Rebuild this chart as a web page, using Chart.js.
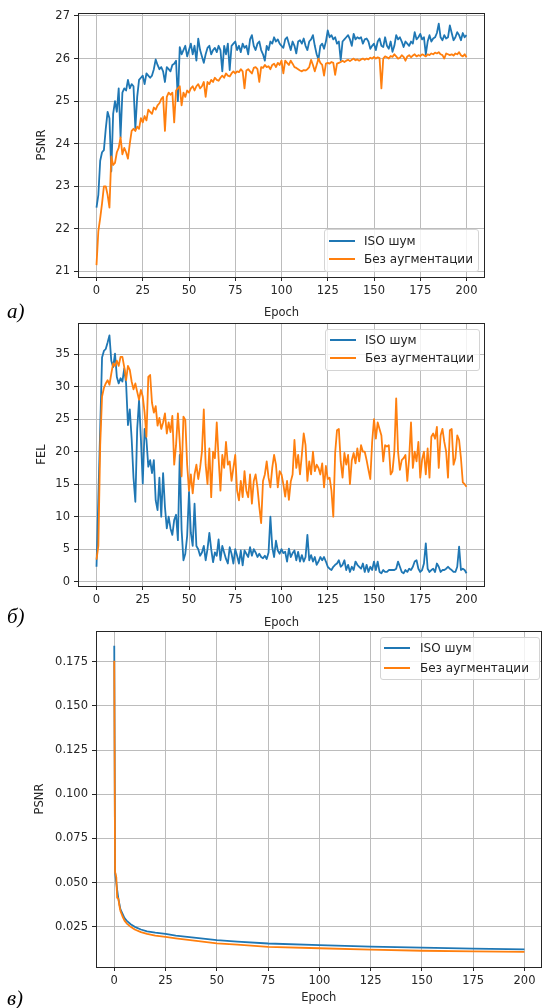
<!DOCTYPE html>
<html>
<head>
<meta charset="utf-8">
<script src="https://cdn.jsdelivr.net/npm/chart.js@4.4.0/dist/chart.umd.min.js"></script>
<style>
  body { margin: 0; width: 542px; height: 1008px; background: #fff; position: relative; overflow: hidden; font-family: "DejaVu Sans", sans-serif; }
  .panel { position: absolute; left: 0; width: 542px; }
  .legend { position: absolute; background: rgba(255,255,255,0.8); border: 1px solid #d4d4d4; border-radius: 3px; box-sizing: border-box; font-size: 12px; color: #222; }
  .legend .ln { position: absolute; height: 2px; width: 26px; }
  .legend .tx { position: absolute; line-height: 14px; white-space: nowrap; }
  .tag { position: absolute; left: 7px; font-family: "Liberation Serif", serif; font-style: italic; font-size: 21px; line-height: 22px; color: #000; }
</style>
</head>
<body>

<div class="panel" style="top:0;height:322px"><canvas id="chartA"></canvas></div>
<div class="panel" style="top:310px;height:322px"><canvas id="chartB"></canvas></div>
<div class="panel" style="top:620px;height:388px"><canvas id="chartC"></canvas></div>

<div class="legend" style="left:324px;top:229px;width:155px;height:43px">
  <span class="ln" style="left:4px;top:10px;background:#1f77b4"></span><span class="tx" style="left:39px;top:4px">ISO шум</span>
  <span class="ln" style="left:4px;top:28px;background:#ff7f0e"></span><span class="tx" style="left:39px;top:22px">Без аугментации</span>
</div>
<div class="legend" style="left:325px;top:329px;width:155px;height:42px">
  <span class="ln" style="left:4px;top:9px;background:#1f77b4"></span><span class="tx" style="left:39px;top:3px">ISO шум</span>
  <span class="ln" style="left:4px;top:27px;background:#ff7f0e"></span><span class="tx" style="left:39px;top:21px">Без аугментации</span>
</div>
<div class="legend" style="left:380px;top:637px;width:160px;height:43px">
  <span class="ln" style="left:3px;top:9px;background:#1f77b4"></span><span class="tx" style="left:39px;top:3px">ISO шум</span>
  <span class="ln" style="left:3px;top:29px;background:#ff7f0e"></span><span class="tx" style="left:39px;top:23px">Без аугментации</span>
</div>

<div class="tag" style="top:300px">a)</div>
<div class="tag" style="top:605px">б)</div>
<div class="tag" style="top:987px">в)</div>

<script>
// labels
const seriesLabels = ['ISO шум', 'Без аугментации'];
const xTicks = [0, 25, 50, 75, 100, 125, 150, 175, 200];

// a) PSNR per epoch (0..200)
const aIso = [
  22.5, 22.8, 23.6, 23.8, 23.85, 24.35, 24.75, 24.6, 23.35, 24.7,
  25.0, 24.75, 25.3, 24.15, 25.2, 25.3, 25.25, 25.5, 25.3, 25.4,
  25.35, 24.35, 25.1, 25.5, 25.55, 25.6, 25.4, 25.65, 25.6, 25.55,
  25.6, 25.75, 25.98, 25.85, 25.75, 25.8, 25.7, 25.45, 25.8, 25.75,
  25.7, 25.85, 25.88, 25.95, 25.0, 26.27, 26.1, 26.2, 26.3, 26.05,
  26.2, 26.35, 26.1, 26.3, 25.95, 26.47, 26.2, 26.05, 25.9, 26.1,
  26.25, 26.3, 26.1, 26.2, 26.25, 26.15, 26.3, 26.2, 25.7, 26.3,
  26.1, 26.35, 25.73, 26.3, 26.35, 26.4, 26.2, 26.3, 26.15, 26.35,
  26.25, 26.3, 26.1, 26.45, 26.55, 26.3, 26.2, 26.35, 26.4, 26.2,
  26.1, 25.95, 26.3, 26.2, 26.4, 26.35, 26.5, 26.4, 26.45, 26.35,
  26.3, 26.25, 26.45, 26.5, 26.35, 26.2, 26.4, 26.3, 26.12, 26.4,
  26.43, 26.35, 26.47, 26.3, 26.2, 26.4, 26.45, 26.55, 26.3, 26.1,
  25.98, 26.3, 26.35, 26.23, 26.4, 26.66, 26.5, 26.55, 26.45, 26.5,
  26.35, 26.4, 25.96, 26.4, 26.45, 26.5, 26.55, 26.45, 26.3, 26.58,
  26.45, 26.5, 26.47, 26.5, 26.35, 26.45, 26.47, 26.4, 26.23, 26.3,
  26.35, 26.2, 26.4, 26.47, 26.3, 26.27, 26.5, 26.3, 26.23, 26.4,
  26.16, 26.3, 26.55, 26.45, 26.5, 26.4, 26.27, 26.4, 26.35, 26.3,
  26.4, 26.35, 26.62, 26.45, 26.5, 26.58, 26.45, 26.5, 26.1, 26.4,
  26.55, 26.4, 26.47, 26.5, 26.6, 26.82, 26.5, 26.43, 26.55, 26.47,
  26.5, 26.78, 26.6, 26.43, 26.5, 26.62, 26.55, 26.43, 26.6, 26.5,
  26.55
];
const aNoAug = [
  21.15, 21.95, 22.25, 22.6, 23.0, 23.0, 22.8, 22.5, 23.7, 23.5,
  23.55, 23.8, 23.9, 24.15, 23.75, 23.9, 23.8, 23.65, 24.0, 24.3,
  24.35, 24.3, 24.4, 24.35, 24.6, 24.5, 24.65, 24.55, 24.8, 24.75,
  24.7, 24.85, 24.8, 24.9, 24.95, 25.05, 25.1, 24.3, 25.1, 25.2,
  25.15, 25.2, 24.5, 25.25, 25.3, 25.35, 24.9, 25.2, 25.1, 25.25,
  25.2, 25.3, 25.35, 25.25, 25.35, 25.4, 25.3, 25.35, 25.45, 25.1,
  25.45, 25.4, 25.5, 25.45, 25.55, 25.5, 25.48, 25.55, 25.6, 25.55,
  25.65, 25.6, 25.58, 25.65, 25.7, 25.65, 25.7, 25.68, 25.75, 25.7,
  25.3, 25.72, 25.75, 25.7, 25.65, 25.78, 25.8, 25.75, 25.45, 25.8,
  25.78, 25.85, 25.8, 25.82, 25.75, 25.85, 25.88, 25.8, 25.9, 25.85,
  25.95, 25.65, 25.95, 25.9, 25.85, 25.95, 25.88, 25.8, 25.78, 25.75,
  25.72, 25.7, 25.73, 25.72, 25.75, 25.8, 25.97, 25.85, 25.7, 25.85,
  26.0, 25.9, 25.85, 25.6, 25.88, 25.9, 25.88, 25.92, 25.9, 25.62,
  25.88, 25.9, 25.92, 25.95, 25.92, 25.95, 25.97, 25.94, 25.97, 26.0,
  25.96, 25.98, 25.95, 25.98, 26.0, 25.97, 26.0, 25.98, 26.02, 26.0,
  26.04, 26.0, 26.03, 26.01, 25.3, 26.0, 26.05, 26.03, 26.0, 26.06,
  26.04, 26.1, 26.05, 26.0, 26.02, 26.08, 26.04, 25.95, 26.05, 26.08,
  26.03, 26.07, 26.1, 26.05, 26.08, 26.06, 26.1, 26.08, 26.05, 26.1,
  26.08, 26.12, 26.1, 26.14, 26.12, 26.15, 26.1, 26.08, 26.0, 26.12,
  26.1, 26.08, 26.1, 26.07, 26.12, 26.1, 26.15, 26.08, 26.05, 26.1,
  26.03
];

// б) FEL per epoch (0..200)
const bIso = [
  2.3, 13.0, 23.5, 34.5, 35.5, 35.8, 36.8, 37.9, 34.0, 33.0,
  35.1, 31.5, 30.5, 31.3, 30.8, 32.8, 30.5, 24.1, 26.5, 22.0,
  16.0, 12.3, 23.5, 27.9, 22.0, 15.1, 23.5, 21.8, 17.7, 18.7,
  16.7, 18.7, 12.5, 11.0, 16.0, 10.0, 16.7, 11.5, 8.2, 10.0,
  8.2, 7.2, 9.5, 10.3, 6.4, 19.5, 8.0, 3.3, 4.3, 7.0,
  13.8, 7.5, 5.5, 12.0, 5.5, 5.0, 4.0, 4.5, 5.5, 3.3,
  5.0, 7.5, 5.0, 3.0, 4.5, 4.0, 6.5, 3.3, 5.5, 4.5,
  3.5, 2.8, 5.3, 4.3, 2.8, 5.0, 4.0, 2.8, 4.8, 2.5,
  4.8, 4.3, 3.8, 5.3, 4.0, 5.0, 4.5, 3.8, 4.3, 3.8,
  3.6, 4.0, 3.5, 4.5, 10.0, 5.3, 3.8, 6.3, 4.8, 4.3,
  5.0, 4.4, 4.6, 3.1, 5.1, 3.8, 4.4, 4.8, 3.3, 4.6,
  3.1, 4.1, 3.1, 3.8, 7.2, 3.3, 4.1, 3.1, 3.8, 2.6,
  3.1, 3.8, 3.3, 3.8, 3.1, 2.3, 2.0, 1.8, 2.3, 2.6,
  2.8, 3.3, 2.3, 2.6, 3.3, 1.8, 2.6, 1.5, 2.3, 1.8,
  3.1, 2.6, 2.3, 2.0, 2.8, 1.5, 2.6, 1.5, 2.3, 1.8,
  3.1, 1.8, 3.1, 1.5, 1.3, 1.8, 1.5, 1.5, 1.8, 1.8,
  1.8, 1.8, 2.0, 3.1, 2.3, 1.5, 1.3, 1.8, 1.5, 2.0,
  1.8, 2.3, 3.1, 3.3, 2.0, 1.5, 1.8, 2.8, 5.9, 2.0,
  1.5, 1.8, 2.0, 1.5, 2.8, 2.3, 1.5, 1.8, 1.8, 2.0,
  2.3, 2.0, 1.8, 1.5, 1.5, 2.3, 5.4, 1.8, 2.0, 1.8,
  1.3
];
const bNoAug = [
  3.4, 5.5, 21.0, 28.5, 29.8, 30.5, 31.0, 30.3, 32.0, 33.6,
  33.2, 34.0, 33.2, 34.6, 34.6, 33.0, 31.0, 33.2, 32.6, 30.8,
  29.6, 30.5, 29.2, 28.0, 29.5, 28.5, 26.0, 22.3, 31.5, 31.8,
  27.5, 26.0, 27.0, 24.0, 25.2, 23.5, 24.5, 25.9, 22.8, 24.5,
  23.0, 25.5, 18.0, 21.0, 25.9, 21.5, 16.2, 25.4, 24.9, 18.0,
  14.0, 16.5, 13.6, 16.5, 18.0, 15.8, 17.5, 20.0, 26.5, 18.0,
  15.0, 20.5, 13.0, 20.0, 19.0, 24.5, 19.0, 14.0, 19.5, 17.5,
  21.5, 18.0, 18.5, 15.5, 17.5, 19.5, 14.0, 12.5, 15.5, 13.0,
  17.0, 14.0, 13.0, 16.5, 12.0, 15.5, 16.5, 14.5, 11.5, 9.0,
  15.5, 16.5, 18.5, 16.0, 14.5, 17.5, 19.5, 18.0, 14.5, 17.0,
  16.5, 15.0, 13.1, 15.5, 12.6, 15.4, 16.5, 21.8, 17.5, 19.5,
  16.5, 19.5, 22.8, 21.0, 15.5, 18.5, 16.5, 20.0, 17.0, 18.0,
  17.5, 16.5, 18.2, 14.5, 17.8, 15.8, 16.0, 14.0, 10.0, 19.8,
  23.3, 23.5, 18.5, 16.0, 19.8, 18.0, 19.5, 15.0, 18.7, 19.8,
  18.2, 20.5, 18.5, 21.0, 20.0, 20.0, 18.7, 17.2, 15.8, 21.5,
  25.0, 22.0, 24.5, 23.5, 22.5, 18.5, 21.0, 20.8, 21.0, 16.5,
  17.0, 20.0, 28.2, 20.0, 17.2, 18.7, 19.0, 19.5, 15.5, 19.0,
  24.5, 17.5, 20.0, 18.5, 21.5, 16.0, 18.8, 20.0, 16.5, 20.5,
  16.0, 22.3, 22.8, 22.0, 23.8, 17.5, 22.5, 23.5, 21.5, 20.0,
  16.0, 23.3, 23.5, 18.0, 19.0, 22.5, 21.8, 19.0, 15.3, 15.0,
  14.6
];

// в) loss curve, read at selected epochs
const cEpochs = [0, 0.4, 1, 1.4, 2, 2.5, 3, 4, 5, 6, 8, 10, 13, 16, 20, 25, 30, 40, 50, 60, 75, 100, 125, 150, 175, 200];
const cIso = [0.184, 0.056, 0.050, 0.046, 0.041, 0.038, 0.035, 0.0325, 0.030, 0.0285, 0.0265, 0.025, 0.0235, 0.0225, 0.0217, 0.0210, 0.0201, 0.0188, 0.0175, 0.0167, 0.0156, 0.0147, 0.0138, 0.0132, 0.0127, 0.0123];
const cNoAug = [0.1755, 0.056, 0.053, 0.0415, 0.041, 0.037, 0.034, 0.031, 0.0285, 0.027, 0.025, 0.0235, 0.022, 0.021, 0.020, 0.0193, 0.0185, 0.0171, 0.0157, 0.0150, 0.0137, 0.0129, 0.0121, 0.0115, 0.0111, 0.0108];

const yTicksA = [21, 22, 23, 24, 25, 26, 27];
const yTicksB = [0, 5, 10, 15, 20, 25, 30, 35];
const yTicksC = [0.025, 0.05, 0.075, 0.1, 0.125, 0.15, 0.175];

const BLUE = '#1f77b4', ORANGE = '#ff7f0e';
const FONT = { family: 'DejaVu Sans', size: 11.5 };
const GRID = '#bcbcbc';

const framePlugin = {
  id: 'frame',
  afterDatasetsDraw(chart) {
    const { ctx, chartArea: a } = chart;
    ctx.save();
    ctx.strokeStyle = '#262626';
    ctx.lineWidth = 1;
    ctx.strokeRect(Math.round(a.left) + 0.5, Math.round(a.top) + 0.5, Math.round(a.right - a.left) - 1, Math.round(a.bottom - a.top));
    ctx.restore();
  }
};

function toPoints(xs, ys) {
  return ys.map((y, i) => ({ x: xs ? xs[i] : i, y: y }));
}

function makeChart(id, iso, noAug, xs, o) {
  new Chart(id, {
    type: 'line',
    data: {
      datasets: [
        { label: seriesLabels[0], data: toPoints(xs, iso), borderColor: BLUE, backgroundColor: BLUE, order: 1 },
        { label: seriesLabels[1], data: toPoints(xs, noAug), borderColor: ORANGE, backgroundColor: ORANGE, order: 0 }
      ]
    },
    options: {
      responsive: true,
      maintainAspectRatio: false,
      animation: false,
      events: [],
      elements: {
        line: { borderWidth: 1.8, tension: 0, fill: false, borderJoinStyle: 'round' },
        point: { radius: 0 }
      },
      layout: { padding: o.pad },
      plugins: { legend: { display: false }, tooltip: { enabled: false } },
      scales: {
        x: {
          type: 'linear',
          min: o.xMin,
          max: o.xMax,
          afterBuildTicks: s => { s.ticks = xTicks.map(v => ({ value: v })); },
          afterFit: s => { s.height = o.xH; },
          grid: { color: GRID, lineWidth: 1, tickLength: 4, tickColor: '#262626' },
          border: { display: false },
          ticks: { font: FONT, color: '#262626', padding: 3, autoSkip: false, maxRotation: 0 },
          title: { display: true, text: 'Epoch', font: FONT, color: '#262626', padding: { top: 0, bottom: o.xTitlePad } }
        },
        y: {
          min: o.yMin,
          max: o.yMax,
          afterBuildTicks: s => { s.ticks = o.yTicks.map(v => ({ value: v })); },
          afterFit: s => { s.width = o.yW; },
          grid: { color: GRID, lineWidth: 1, tickLength: 4, tickColor: '#262626' },
          border: { display: false },
          ticks: { font: FONT, color: '#262626', padding: 4, autoSkip: false, callback: v => v.toFixed(o.dec) },
          title: { display: true, text: o.yLabel, font: FONT, color: '#262626', padding: { top: o.yTitlePad, bottom: 0 } }
        }
      }
    },
    plugins: [framePlugin]
  });
}

makeChart('chartA', aIso, aNoAug, null, {
  pad: { left: 0, top: 13, right: 57, bottom: 0 },
  xMin: -10, xMax: 210, yMin: 20.87, yMax: 27.07, yTicks: yTicksA, dec: 0,
  yW: 78, xH: 45, xTitlePad: 2, yTitlePad: 35, yLabel: 'PSNR'
});
makeChart('chartB', bIso, bNoAug, null, {
  pad: { left: 0, top: 13, right: 57, bottom: 0 },
  xMin: -10, xMax: 210, yMin: -0.66, yMax: 39.8, yTicks: yTicksB, dec: 0,
  yW: 78, xH: 46, xTitlePad: 2, yTitlePad: 35, yLabel: 'FEL'
});
makeChart('chartC', cIso, cNoAug, cEpochs, {
  pad: { left: 0, top: 11, right: 0.5, bottom: 0 },
  xMin: -8.9, xMax: 208.3, yMin: 0.0023, yMax: 0.1923, yTicks: yTicksC, dec: 3,
  yW: 96, xH: 41, xTitlePad: 3, yTitlePad: 33, yLabel: 'PSNR'
});
</script>
</body>
</html>
